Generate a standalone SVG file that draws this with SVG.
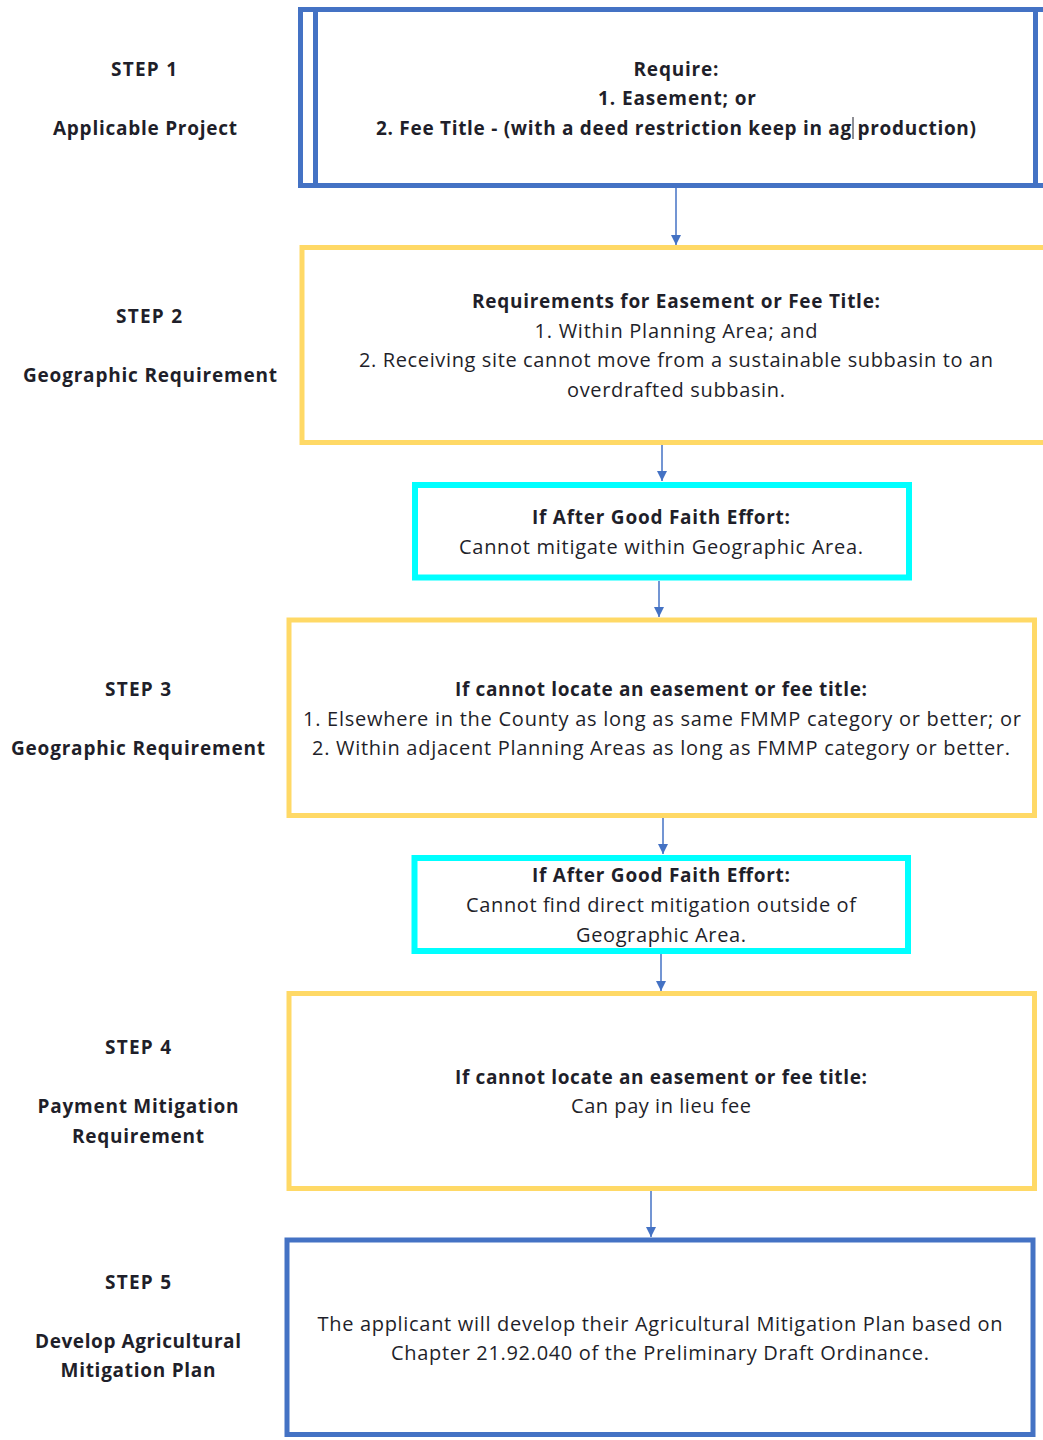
<svg xmlns="http://www.w3.org/2000/svg" width="1043" height="1440" viewBox="0 0 1043 1440">
<defs>
<style>
text{font-family:"Open Sans","Noto Sans","Liberation Sans",sans-serif;font-size:20px;fill:#1f1f2a;text-anchor:middle}
.b{font-weight:bold;font-size:19px}
.blue{fill:#fff;stroke:#4472C4;stroke-width:5}
.yel{fill:#fff;stroke:#FFD966;stroke-width:5}
.cyan{fill:#fff;stroke:#00FFFF;stroke-width:6}
.conn{stroke:#4472C4;stroke-width:1.5;fill:none;marker-end:url(#ah)}
</style>
<marker id="ah" viewBox="0 0 10 10" refX="10" refY="5" markerWidth="10" markerHeight="10" markerUnits="userSpaceOnUse" orient="auto">
<path d="M0,0 L10,5 L0,10 z" fill="#4472C4"/>
</marker>
</defs>
<rect width="1043" height="1440" fill="#fff"/>

<g id="labels">
<text class="b" x="144" y="76" textLength="66">STEP 1</text>
<text class="b" x="145" y="135" textLength="184">Applicable Project</text>
<text class="b" x="149" y="323" textLength="66">STEP 2</text>
<text class="b" x="150" y="382" textLength="254">Geographic Requirement</text>
<text class="b" x="138" y="696" textLength="66">STEP 3</text>
<text class="b" x="138" y="755" textLength="254">Geographic Requirement</text>
<text class="b" x="138" y="1054" textLength="66">STEP 4</text>
<text class="b" x="138" y="1113" textLength="201">Payment Mitigation</text>
<text class="b" x="138" y="1143" textLength="132">Requirement</text>
<text class="b" x="138" y="1289" textLength="66">STEP 5</text>
<text class="b" x="138" y="1348" textLength="206">Develop Agricultural</text>
<text class="b" x="138" y="1377" textLength="155">Mitigation Plan</text>
</g>

<g id="node1">
<rect class="blue" x="300.5" y="9.5" width="748" height="176"/>
<line x1="315.5" y1="9.5" x2="315.5" y2="185.5" stroke="#4472C4" stroke-width="5"/>
<line x1="1035.5" y1="9.5" x2="1035.5" y2="185.5" stroke="#4472C4" stroke-width="5"/>
<text class="b" x="676" y="76" textLength="85">Require:</text>
<text class="b" x="677" y="105" textLength="158">1. Easement; or</text>
<text class="b" x="676" y="135" textLength="600">2. Fee Title - (with a deed restriction keep in ag production)</text>
<line x1="853" y1="117" x2="853" y2="139" stroke="#1f1f2a" stroke-width="1"/>
</g>

<g id="node2">
<rect class="yel" x="302" y="247.5" width="746" height="195"/>
<text class="b" x="676" y="308" textLength="408">Requirements for Easement or Fee Title:</text>
<text x="676" y="338" textLength="283">1. Within Planning Area; and</text>
<text x="676" y="367" textLength="634">2. Receiving site cannot move from a sustainable subbasin to an</text>
<text x="676" y="397" textLength="218">overdrafted subbasin.</text>
</g>

<g id="node3">
<rect class="cyan" x="415" y="485" width="494" height="92.5"/>
<text class="b" x="661" y="524" textLength="258">If After Good Faith Effort:</text>
<text x="661" y="554" textLength="404">Cannot mitigate within Geographic Area.</text>
</g>

<g id="node4">
<rect class="yel" x="289" y="620" width="745.5" height="195.5"/>
<text class="b" x="661" y="696" textLength="412">If cannot locate an easement or fee title:</text>
<text x="662" y="726" textLength="718">1. Elsewhere in the County as long as same FMMP category or better; or</text>
<text x="661" y="755" textLength="698">2. Within adjacent Planning Areas as long as FMMP category or better.</text>
</g>

<g id="node5">
<rect class="cyan" x="414.5" y="858" width="493.5" height="93"/>
<text class="b" x="661" y="882" textLength="258">If After Good Faith Effort:</text>
<text x="661" y="912" textLength="390">Cannot find direct mitigation outside of</text>
<text x="661" y="942" textLength="170">Geographic Area.</text>
</g>

<g id="node6">
<rect class="yel" x="289" y="993.5" width="745.5" height="195"/>
<text class="b" x="661" y="1084" textLength="412">If cannot locate an easement or fee title:</text>
<text x="661" y="1113" textLength="180">Can pay in lieu fee</text>
</g>

<g id="node7">
<rect class="blue" x="287" y="1240" width="746" height="194.5"/>
<text x="660" y="1331" textLength="685">The applicant will develop their Agricultural Mitigation Plan based on</text>
<text x="660" y="1360" textLength="538">Chapter 21.92.040 of the Preliminary Draft Ordinance.</text>
</g>

<g id="connectors">
<line class="conn" x1="676" y1="188" x2="676" y2="245"/>
<line class="conn" x1="662" y1="445" x2="662" y2="481"/>
<line class="conn" x1="659" y1="581" x2="659" y2="617"/>
<line class="conn" x1="663" y1="818" x2="663" y2="854"/>
<line class="conn" x1="661" y1="954" x2="661" y2="991"/>
<line class="conn" x1="651" y1="1191" x2="651" y2="1237"/>
</g>
</svg>
